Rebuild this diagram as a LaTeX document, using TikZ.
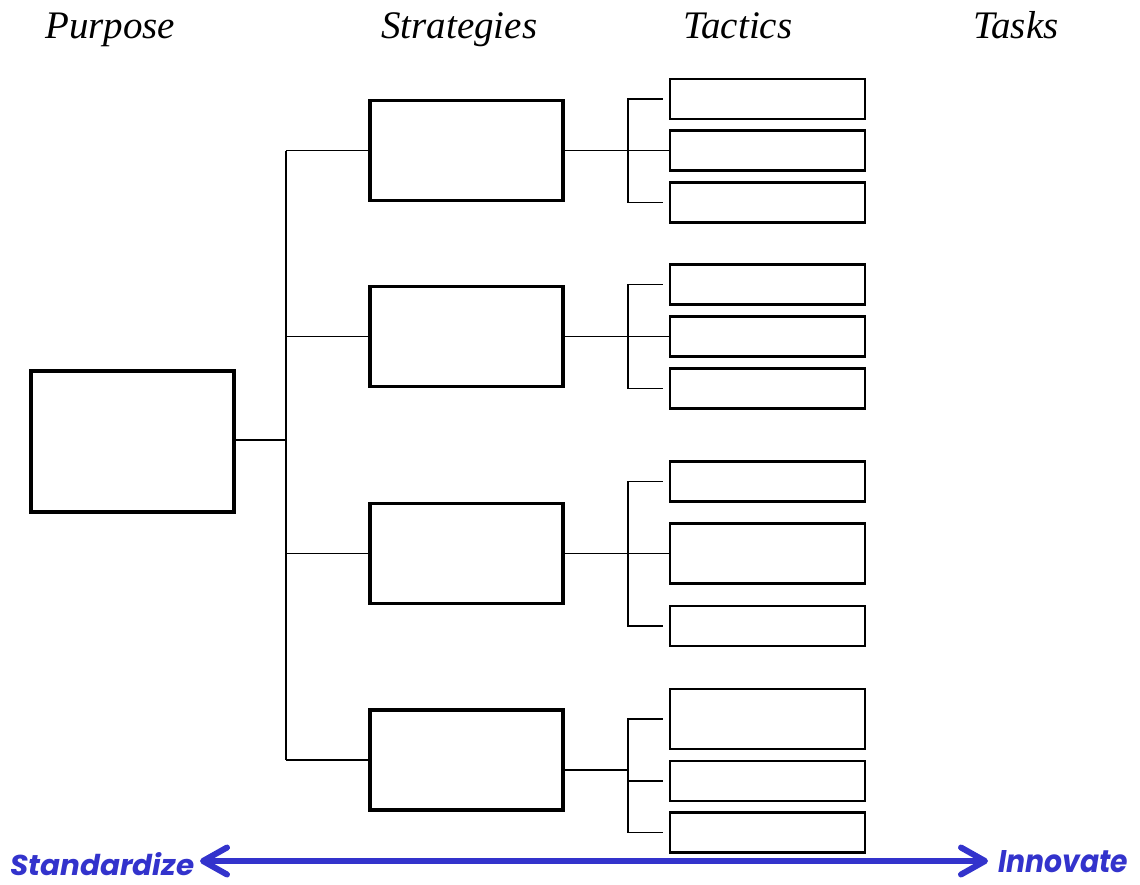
\documentclass[tikz,border=0pt]{standalone}
\usepackage{fontspec}
\setmainfont{Liberation Serif}
\newfontfamily\bannerfont{Poppins}
\usetikzlibrary{arrows.meta,calc}
\definecolor{axisblue}{RGB}{51,51,204}
\begin{document}
\begin{tikzpicture}[x=1pt,y=-1pt,
  purposebox/.style={draw,line width=3.8pt,minimum width=203.5pt,minimum height=141.5pt,inner sep=0pt},
  stratbox/.style={draw,line width=3.8pt,minimum width=193pt,minimum height=100pt,inner sep=0pt},
  tacbox/.style={draw,line width=2.2pt,minimum width=195pt,minimum height=40pt,inner sep=0pt},
  tallbox/.style={tacbox,minimum height=60pt},
  link/.style={line width=1.8pt},
  heading/.style={font=\fontsize{39}{44}\selectfont\itshape,anchor=base west,inner sep=0pt},
  banner/.style={text=axisblue,anchor=base west,inner sep=0pt},
  span/.style={draw=axisblue,line width=6pt,
    {Straight Barb[length=24pt,width=27pt,round]}-{Straight Barb[length=24pt,width=27pt,round]}}]
\useasboundingbox (0,0) rectangle (1140,884);

% column headings
\node[heading] (hP) at (45,38) {Purpose};
\node[heading] (hS) at (381,38) {Strategies};
\node[heading] (hT) at (683,38) {Tactics};
\node[heading] (hK) at (973,38) {Tasks};

% purpose
\node[purposebox] (P) at (132.5,441.5) {};

% strategies
\node[stratbox] (S1) at (466.5,150.5) {};
\node[stratbox] (S2) at (466.5,336.5) {};
\node[stratbox] (S3) at (466.5,553.5) {};
\node[stratbox] (S4) at (466.5,760) {};

% tactics
\node[tacbox]  (T11) at (767.5,99) {};
\node[tacbox]  (T12) at (767.5,150.5) {};
\node[tacbox]  (T13) at (767.5,202.5) {};
\node[tacbox]  (T21) at (767.5,284.5) {};
\node[tacbox]  (T22) at (767.5,336.5) {};
\node[tacbox]  (T23) at (767.5,388.5) {};
\node[tacbox]  (T31) at (767.5,481.5) {};
\node[tallbox] (T32) at (767.5,553.5) {};
\node[tacbox]  (T33) at (767.5,626) {};
\node[tallbox] (T41) at (767.5,719) {};
\node[tacbox]  (T42) at (767.5,781) {};
\node[tacbox]  (T43) at (767.5,832.5) {};

% trunk from purpose to strategies
\coordinate (tk) at (286,0);
\draw[link] (tk |- S1.west) -- (tk |- S4.west);
\coordinate (pout) at ($(P.east)+(-3,-1.5)$);
\draw[link] (pout) -- (pout -| tk);
\foreach \s in {S1,S2,S3,S4} \draw[link] (\s.west) -- (\s.west -| tk);

% branches from strategies to tactics
\coordinate (br) at (628,0);
\foreach \g in {1,2,3,4}{
  \draw[link] ([xshift=-6pt]T\g1.west) -- (T\g1.west -| br) -- (T\g3.west -| br) -- ([xshift=-6pt]T\g3.west);
}
\draw[link] (S1.east) -- (T12.west);
\draw[link] (S2.east) -- (T22.west);
\draw[link] (S3.east) -- (T32.west);
\coordinate (s4out) at ($(S4.east)+(0,10)$);
\draw[link] (s4out) -- (s4out -| br);
\draw[link] ([xshift=-6pt]T42.west) -- (T42.west -| br);

% standardize / innovate axis
\node[banner] (std) at (10,875) {\resizebox{184pt}{23pt}{\bannerfont\bfseries\itshape Standardize}};
\node[banner] (inn) at (998,872) {\resizebox{130pt}{22pt}{\bannerfont\bfseries\itshape Innovate}};
\coordinate (aL) at (200,861);
\coordinate (aR) at (988,861);
\draw[span] (aL) -- (aR);
\end{tikzpicture}
\end{document}
